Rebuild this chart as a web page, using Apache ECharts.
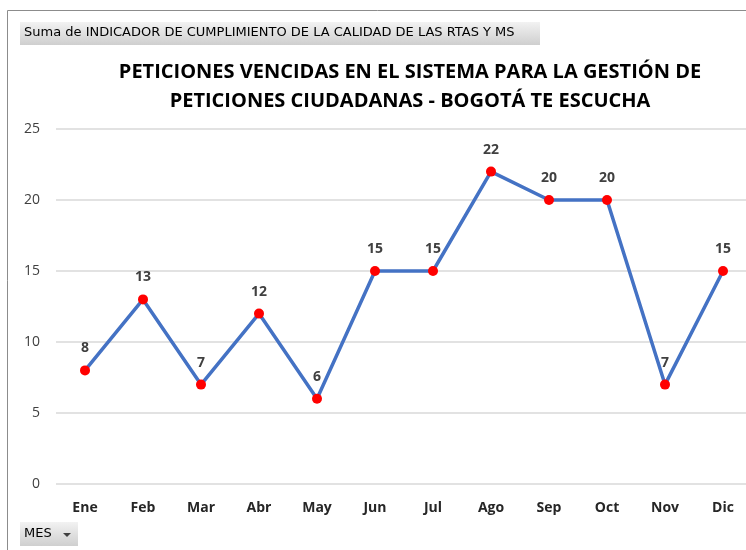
<!DOCTYPE html>
<html>
<head>
<meta charset="utf-8">
<script src="https://cdn.jsdelivr.net/npm/echarts@6/dist/echarts.min.js"></script>
<style>
  html, body { margin: 0; padding: 0; background: #fff; }
  #chart { width: 746px; height: 550px; }
</style>
</head>
<body>
<div id="chart"></div>
<script>
const meses = ["Ene", "Feb", "Mar", "Abr", "May", "Jun", "Jul", "Ago", "Sep", "Oct", "Nov", "Dic"];
const peticiones = [8, 13, 7, 12, 6, 15, 15, 22, 20, 20, 7, 15];
const titulo = "PETICIONES VENCIDAS EN EL SISTEMA PARA LA GESTIÓN DE\nPETICIONES CIUDADANAS - BOGOTÁ TE ESCUCHA";
const campoValor = "Suma de INDICADOR DE CUMPLIMIENTO DE LA CALIDAD DE LAS RTAS Y MS";
const campoEje = "MES";

const chart = echarts.init(document.getElementById("chart"));
const btnFill = new echarts.graphic.LinearGradient(0, 0, 0, 1, [
  { offset: 0, color: "#f2f2f2" },
  { offset: 1, color: "#cfcfcf" },
]);

chart.setOption({
  animation: false,
  title: {
    text: titulo,
    left: 405,
    top: 53,
    textAlign: "center",
    textStyle: {
      fontFamily: "Open Sans",
      fontWeight: "bold",
      fontSize: 20,
      lineHeight: 29,
      color: "#000",
    },
  },
  grid: { left: 56, right: -6, top: 129, bottom: 66, outerBoundsMode: "none" },
  xAxis: {
    type: "category",
    data: meses,
    boundaryGap: true,
    axisLine: { show: false },
    axisTick: { show: false },
    axisLabel: {
      margin: 17,
      fontFamily: "Open Sans",
      fontWeight: "bold",
      fontSize: 14,
      color: "#262626",
    },
  },
  yAxis: {
    type: "value",
    min: 0,
    max: 25,
    interval: 5,
    axisLine: { show: false },
    axisTick: { show: false },
    axisLabel: {
      margin: 16,
      fontFamily: "Open Sans",
      fontSize: 14,
      color: "#404040",
    },
    splitLine: { lineStyle: { color: "#d9d9d9", width: 1.5 } },
  },
  series: [
    {
      type: "line",
      data: peticiones,
      symbol: "circle",
      symbolSize: 10,
      lineStyle: { color: "#4472c4", width: 3.5 },
      itemStyle: { color: "#ff0000" },
      label: {
        show: true,
        position: "top",
        distance: 10,
        fontFamily: "Open Sans",
        fontWeight: "bold",
        fontSize: 14,
        color: "#404040",
      },
    },
  ],
  graphic: [
    {
      type: "rect",
      shape: { x: 7.5, y: 10.5, width: 760, height: 560 },
      style: { fill: "none", stroke: "#8c8c8c", lineWidth: 1 },
      silent: true,
    },
    {
      type: "rect",
      shape: { x: 20, y: 22, width: 520, height: 23 },
      style: { fill: btnFill },
    },
    {
      type: "text",
      left: 24,
      top: 26,
      style: {
        text: campoValor,
        font: "13px 'DejaVu Sans', sans-serif",
        fill: "#000",
      },
    },
    {
      type: "rect",
      shape: { x: 20, y: 522, width: 58, height: 24 },
      style: { fill: btnFill },
    },
    {
      type: "text",
      left: 24,
      top: 527,
      style: {
        text: campoEje,
        font: "13px 'DejaVu Sans', sans-serif",
        fill: "#000",
      },
    },
    {
      type: "polygon",
      shape: { points: [[63, 533], [71, 533], [67, 537]] },
      style: { fill: "#404040" },
    },
  ],
});
</script>
</body>
</html>
